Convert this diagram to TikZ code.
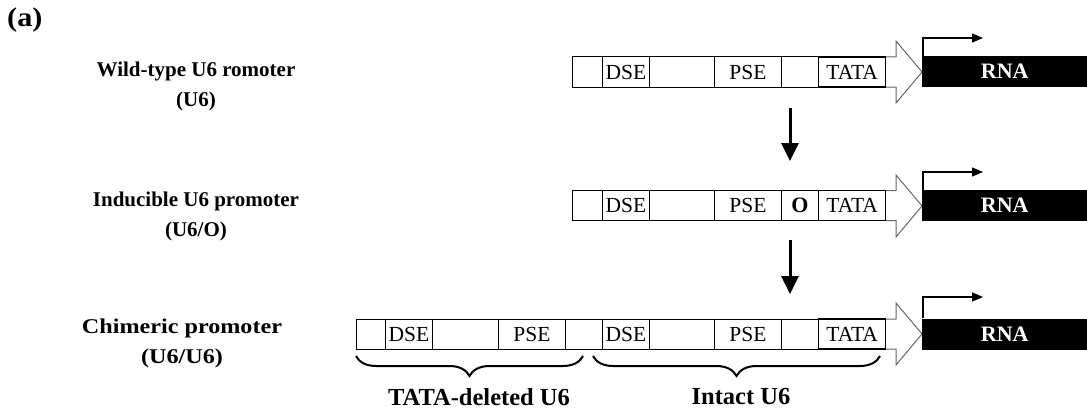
\documentclass[tikz,border=0pt]{standalone}
\usepackage{fontspec}
\setmainfont{Liberation Serif}
\newfontfamily\lblfont[FakeStretch=1.12]{Liberation Serif}
\newfontfamily\widefont[FakeStretch=1.15]{Liberation Serif}
\usetikzlibrary{arrows.meta,decorations.pathreplacing}
\begin{document}
\begin{tikzpicture}[x=1pt,y=-1pt,
  cell/.style={draw=black,line width=1pt,anchor=west,minimum height=30pt,inner sep=0pt,font=\fontsize{21.5}{21.5}\selectfont},
  tata/.style={cell,line width=1.4pt},
  rna/.style={fill=black,anchor=west,minimum height=31pt,minimum width=165pt,inner sep=0pt,text=white,font=\fontsize{22}{22}\selectfont\bfseries},
  lab/.style={align=center,font=\fontsize{21}{30}\selectfont\bfseries},
  labw/.style={align=center,font=\widefont\fontsize{21}{30}\selectfont\bfseries},
  big/.style={draw=black!60,line width=1pt,line join=miter},
  down/.style={line width=3pt,-{Triangle[width=17pt,length=18pt]}},
  tss/.style={line width=1.3pt,-{Triangle[width=9pt,length=11pt]}},
  br/.style={line width=2pt,decorate,decoration={brace,mirror,amplitude=20pt,aspect=0.5}},
  brlab/.style={font=\fontsize{24.5}{24.5}\selectfont\bfseries}
]
\useasboundingbox (0,0) rectangle (1087,412);
% panel label
\node[anchor=north west,inner sep=0pt,font=\lblfont\fontsize{27}{27}\selectfont\bfseries] (pa) at (7,8) {(a)};
% left labels
\node[lab] (l1) at (196,86) {Wild-type U6 romoter\\(U6)};
\node[lab] (l2) at (196,216) {Inducible U6 promoter\\(U6/O)};
\node[labw] (l3) at (182,343) {Chimeric promoter\\(U6/U6)};
% big arrows
\draw[big] (885,57) -- (896,57) -- (896,41) -- (922,72) -- (896,103) -- (896,87) -- (885,87);
\draw[big] (885,190.5) -- (896,190.5) -- (896,175) -- (922,206) -- (896,237) -- (896,220.5) -- (885,220.5);
\draw[big] (885,319) -- (896,319) -- (896,303) -- (922,334) -- (896,365) -- (896,349) -- (885,349);
% row 1
\node[cell,minimum width=30pt] (r1a) at (572,72) {};
\node[cell,minimum width=47pt] (r1b) at (602,72) {DSE};
\node[cell,minimum width=65pt] (r1c) at (649,72) {};
\node[cell,minimum width=67pt] (r1d) at (714,72) {PSE};
\node[cell,minimum width=37pt] (r1e) at (781,72) {};
\node[tata,minimum width=67pt] (r1f) at (818,72) {TATA};
\node[rna] (rna1) at (922,71.5) {RNA};
% row 2
\node[cell,minimum width=30pt] (r2a) at (572,205.5) {};
\node[cell,minimum width=47pt] (r2b) at (602,205.5) {DSE};
\node[cell,minimum width=65pt] (r2c) at (649,205.5) {};
\node[cell,minimum width=67pt] (r2d) at (714,205.5) {PSE};
\node[cell,minimum width=37pt,font=\fontsize{22}{22}\selectfont\bfseries] (r2e) at (781,205.5) {O};
\node[tata,minimum width=67pt] (r2f) at (818,205.5) {TATA};
\node[rna] (rna2) at (922,205.5) {RNA};
% row 3
\node[cell,minimum width=29pt] (r3a) at (356,334) {};
\node[cell,minimum width=47pt] (r3b) at (385,334) {DSE};
\node[cell,minimum width=66pt] (r3c) at (432,334) {};
\node[cell,minimum width=67pt] (r3d) at (498,334) {PSE};
\node[cell,minimum width=37pt] (r3e) at (565,334) {};
\node[cell,minimum width=47pt] (r3f) at (602,334) {DSE};
\node[cell,minimum width=65pt] (r3g) at (649,334) {};
\node[cell,minimum width=67pt] (r3h) at (714,334) {PSE};
\node[cell,minimum width=37pt] (r3i) at (781,334) {};
\node[tata,minimum width=67pt] (r3j) at (818,334) {TATA};
\node[rna] (rna3) at (922,334) {RNA};
% transcription start arrows
\coordinate (t1) at (983,38);
\coordinate (t2) at (983,172);
\coordinate (t3) at (983,297);
\draw[tss] (rna1.north west) ++(1,0) |- (t1);
\draw[tss] (rna2.north west) ++(1,0) |- (t2);
\draw[tss] (rna3.north west) ++(1,0) |- (t3);
% down arrows
\coordinate (d1s) at (790,108);
\coordinate (d1e) at (790,161);
\coordinate (d2s) at (790,240);
\coordinate (d2e) at (790,294);
\draw[down] (d1s) -- (d1e);
\draw[down] (d2s) -- (d2e);
% braces
\coordinate (b1s) at (356,356);
\coordinate (b1e) at (583,356);
\coordinate (b2s) at (593,356);
\coordinate (b2e) at (880,356);
\draw[br] (b1s) -- (b1e);
\draw[br] (b2s) -- (b2e);
\node[brlab] (bl1) at (479,397) {TATA-deleted U6};
\node[brlab] (bl2) at (741,397) {Intact U6};
\end{tikzpicture}
\end{document}
